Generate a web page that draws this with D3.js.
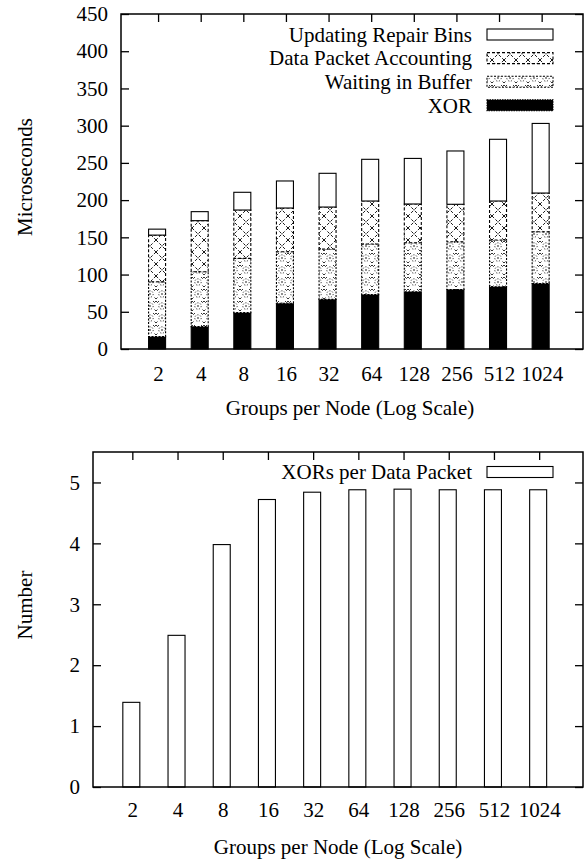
<!DOCTYPE html>
<html>
<head>
<meta charset="utf-8">
<script src="https://cdn.jsdelivr.net/npm/d3@7"></script>
<style>
  html, body { margin: 0; padding: 0; background: #fff; }
  svg { display: block; }
  svg text { font-family: "Liberation Serif", "Times New Roman", Times, Tinos, "Nimbus Roman", "DejaVu Serif", serif !important; fill: #000; }
</style>
</head>
<body>
<svg id="chart" width="588" height="863"></svg>
<script>
// ---------- DATA ----------
const categories = ["2", "4", "8", "16", "32", "64", "128", "256", "512", "1024"];
// stacked components (microseconds), bottom to top
const xorTime        = [16.6, 30.0, 48.8, 61.4, 66.7, 73.0, 77.0, 80.0, 83.7, 88.0];
const waitingBuffer  = [73.8, 73.8, 73.0, 69.3, 67.6, 68.0, 65.8, 64.1, 62.7, 69.6];
const dataPacketAcct = [62.6, 68.6, 64.9, 58.7, 56.4, 57.8, 52.0, 50.3, 52.4, 51.9];
const repairBins     = [8.0, 12.1, 23.8, 36.3, 45.3, 56.0, 61.2, 71.6, 82.9, 93.5];
const seriesNames    = ["Updating Repair Bins", "Data Packet Accounting", "Waiting in Buffer", "XOR"];
const xorsPerPacket  = [1.39, 2.49, 3.98, 4.72, 4.84, 4.88, 4.89, 4.88, 4.88, 4.88];
const topYTicks      = [0, 50, 100, 150, 200, 250, 300, 350, 400, 450];
const bottomYTicks   = [0, 1, 2, 3, 4, 5];

// ---------- SETUP ----------
const svg = d3.select("#chart");
const FS = 21;
const FONT = '"Liberation Serif", "Times New Roman", Times, Tinos, "Nimbus Roman", "DejaVu Serif", serif';
const defs = svg.append("defs");

// crosshatch pattern (Data Packet Accounting)
const pc = defs.append("pattern").attr("id", "pCross")
  .attr("patternUnits", "userSpaceOnUse").attr("width", 12).attr("height", 12);
pc.append("rect").attr("width", 12).attr("height", 12).attr("fill", "#fff");
pc.append("path").attr("d", "M0,0 L12,12 M12,0 L0,12")
  .attr("stroke", "#000").attr("stroke-width", 0.9).attr("stroke-dasharray", "3,1.8").attr("fill", "none");

// dotted circle pattern (Waiting in Buffer)
const pw = defs.append("pattern").attr("id", "pWait")
  .attr("patternUnits", "userSpaceOnUse").attr("width", 12).attr("height", 12);
pw.append("rect").attr("width", 12).attr("height", 12).attr("fill", "#fff");
pw.append("circle").attr("cx", 6).attr("cy", 6).attr("r", 3.2)
  .attr("fill", "none").attr("stroke", "#000").attr("stroke-width", 0.8).attr("stroke-dasharray", "1.2,1.6");
pw.append("circle").attr("cx", 6).attr("cy", 6).attr("r", 0.8).attr("fill", "#000");
pw.append("path").attr("d", "M0,1 L1.5,2.5 L3,1 M9,1 L10.5,2.5 L12,1 M0,11 L1.5,9.5 M12,11 L10.5,9.5")
  .attr("stroke", "#000").attr("stroke-width", 0.8).attr("fill", "none");

const seriesStyles = [
  { fill: "#fff", dash: null },              // Updating Repair Bins
  { fill: "url(#pCross)", dash: "3,2" },     // Data Packet Accounting
  { fill: "url(#pWait)", dash: "2,1.5" },    // Waiting in Buffer
  { fill: "#000", dash: null }               // XOR
];

function styleText(sel) {
  return sel.attr("font-family", FONT).style("font-family", FONT).style("font-size", FS + "px");
}

function drawFrame(g, x, y, yTicks, opts) {
  const [x0, x1] = x.range();
  const [y0, y1] = y.range();
  const tickLen = 8;
  const ya = g.append("g").attr("transform", `translate(${x0},0)`)
    .call(d3.axisLeft(y).tickValues(yTicks).tickSize(-tickLen).tickPadding(opts.yPad).tickFormat(d3.format("d")));
  const yr = g.append("g").attr("transform", `translate(${x1},0)`)
    .call(d3.axisRight(y).tickValues(yTicks).tickSize(-tickLen).tickFormat(""));
  const xa = g.append("g").attr("transform", `translate(0,${y0})`)
    .call(d3.axisBottom(x).tickValues(d3.range(categories.length)).tickSize(-tickLen)
      .tickPadding(opts.xPad).tickFormat(i => categories[i]));
  const xt = g.append("g").attr("transform", `translate(0,${y1})`)
    .call(d3.axisTop(x).tickValues(d3.range(categories.length)).tickSize(-tickLen).tickFormat(""));
  [ya, yr, xa, xt].forEach(a => {
    a.attr("font-family", FONT).attr("font-size", FS);
    a.select(".domain").remove();
    a.selectAll("line").attr("stroke", "#000").attr("stroke-width", 1.3);
    styleText(a.selectAll("text"));
  });
  return g;
}

function drawBorder(g, x, y) {
  const [x0, x1] = x.range();
  const [y0, y1] = y.range();
  g.append("rect").attr("x", x0).attr("y", y1).attr("width", x1 - x0).attr("height", y0 - y1)
    .attr("fill", "none").attr("stroke", "#000").attr("stroke-width", 1.5);
}

const BAR_W = 17;
const BAR_OFF = -1;

// ---------- TOP CHART ----------
{
  const g = svg.append("g");
  const x = d3.scaleLinear().domain([-0.87, 9.97]).range([121, 583]);
  const y = d3.scaleLinear().domain([0, 450]).range([349, 14]);
  drawFrame(g, x, y, topYTicks, { yPad: 13, xPad: 17 });

  const rows = categories.map((c, i) => ({
    i, "XOR": xorTime[i], "Waiting in Buffer": waitingBuffer[i],
    "Data Packet Accounting": dataPacketAcct[i], "Updating Repair Bins": repairBins[i]
  }));
  const stackKeys = ["XOR", "Waiting in Buffer", "Data Packet Accounting", "Updating Repair Bins"];
  const stacked = d3.stack().keys(stackKeys)(rows);
  stacked.forEach(layer => {
    const st = seriesStyles[seriesNames.indexOf(layer.key)];
    g.append("g").selectAll("rect").data(layer).join("rect")
      .attr("x", d => x(d.data.i) - BAR_W / 2 + BAR_OFF)
      .attr("y", d => y(d[1]))
      .attr("width", BAR_W)
      .attr("height", d => y(d[0]) - y(d[1]))
      .attr("fill", st.fill)
      .attr("stroke", "#000").attr("stroke-width", 1.1)
      .attr("stroke-dasharray", st.dash);
  });

  const lg = g.append("g");
  seriesNames.forEach((name, k) => {
    const cy = 34.5 + k * 23.6;
    const st = seriesStyles[k];
    styleText(lg.append("text").attr("x", 472).attr("y", cy).attr("dy", "0.35em")
      .attr("text-anchor", "end")).text(name);
    lg.append("rect").attr("x", 487).attr("y", cy - 5.5).attr("width", 66).attr("height", 11)
      .attr("fill", st.fill).attr("stroke", "#000").attr("stroke-width", 1.1)
      .attr("stroke-dasharray", k === 3 ? "1.5,1" : st.dash);
  });

  drawBorder(g, x, y);

  styleText(g.append("text").attr("transform", "translate(25,177) rotate(-90)")
    .attr("text-anchor", "middle").attr("dy", "0.35em")).text("Microseconds");
  styleText(g.append("text").attr("x", 350).attr("y", 408).attr("dy", "0.35em")
    .attr("text-anchor", "middle")).text("Groups per Node (Log Scale)");
}

// ---------- BOTTOM CHART ----------
{
  const g = svg.append("g");
  const x = d3.scaleLinear().domain([-0.87, 9.97]).range([93, 583]);
  const y = d3.scaleLinear().domain([0, 5.5]).range([787, 452]);
  drawFrame(g, x, y, bottomYTicks, { yPad: 13, xPad: 15 });

  g.append("g").selectAll("rect").data(xorsPerPacket).join("rect")
    .attr("x", (d, i) => x(i) - BAR_W / 2 + BAR_OFF)
    .attr("y", d => y(d))
    .attr("width", BAR_W)
    .attr("height", d => y(0) - y(d))
    .attr("fill", "#fff").attr("stroke", "#000").attr("stroke-width", 1.1);

  styleText(g.append("text").attr("x", 472).attr("y", 472).attr("dy", "0.35em")
    .attr("text-anchor", "end")).text("XORs per Data Packet");
  g.append("rect").attr("x", 487).attr("y", 466.5).attr("width", 66).attr("height", 11)
    .attr("fill", "#fff").attr("stroke", "#000").attr("stroke-width", 1.1);

  drawBorder(g, x, y);

  styleText(g.append("text").attr("transform", "translate(25,605) rotate(-90)")
    .attr("text-anchor", "middle").attr("dy", "0.35em")).text("Number");
  styleText(g.append("text").attr("x", 338).attr("y", 847).attr("dy", "0.35em")
    .attr("text-anchor", "middle")).text("Groups per Node (Log Scale)");
}
</script>
</body>
</html>
